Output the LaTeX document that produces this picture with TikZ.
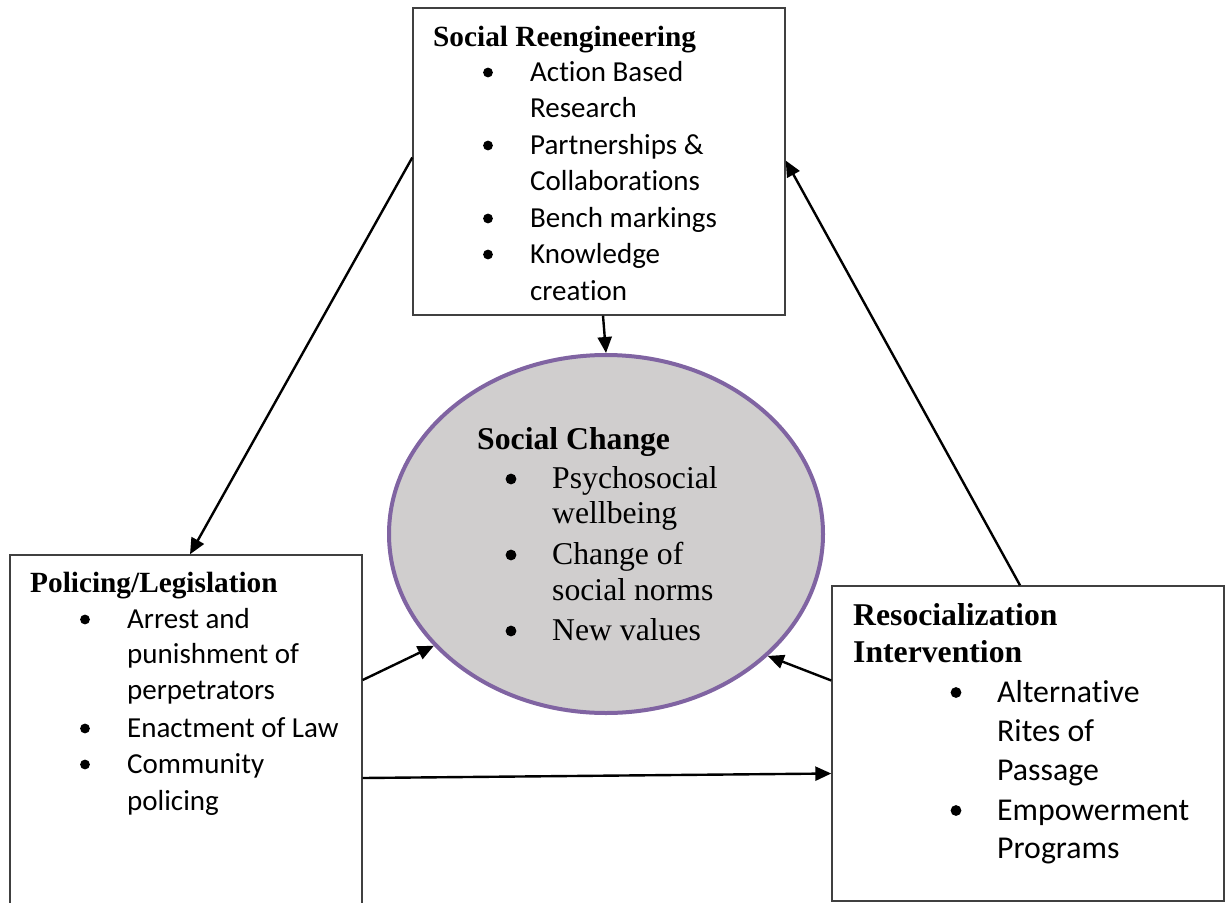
\documentclass[tikz,border=0pt]{standalone}
\usepackage{fontspec}
\setmainfont{Liberation Serif}
\newfontfamily\calibri[Ligatures=CommonOff]{Carlito}
\usetikzlibrary{arrows.meta,shapes.geometric,calc}
\definecolor{boxline}{HTML}{404040}
\definecolor{ringline}{HTML}{8064A2}
\definecolor{ringfill}{HTML}{D0CECE}
\begin{document}
\begin{tikzpicture}[x=1pt,y=-1pt,
  panel/.style={draw=boxline,line width=1.4pt,rectangle,inner sep=0pt,fill=white},
  ring/.style={draw=ringline,line width=4pt,fill=ringfill,ellipse,inner sep=0pt},
  link/.style={draw=black,line width=2.4pt,-{Triangle[length=16pt,width=14pt]}},
  head/.style={anchor=base west,inner sep=0pt,font=\fontsize{29.3}{34}\selectfont\bfseries},
  bighead/.style={anchor=base west,inner sep=0pt,font=\fontsize{31.7}{36}\selectfont\bfseries},
  body/.style={anchor=base west,inner sep=0pt,font=\fontsize{29}{34}\selectfont\calibri},
  bigbody/.style={anchor=base west,inner sep=0pt,font=\fontsize{31.8}{36}\selectfont\calibri},
  serifbody/.style={anchor=base west,inner sep=0pt,font=\fontsize{31.7}{36}\selectfont},
  dot/.style={circle,fill=black,inner sep=0pt,minimum size=9.8pt},
  bigdot/.style={circle,fill=black,inner sep=0pt,minimum size=10.8pt}]
\useasboundingbox (0,0) rectangle (1231,902);

% boxes and central ellipse
\node[panel,minimum width=372pt,minimum height=307pt] (sr) at (599,161.5) {};
\node[panel,minimum width=352pt,minimum height=360pt] (pl) at (186,735) {};
\node[panel,minimum width=392pt,minimum height=315pt] (rs) at (1028,743.5) {};
\node[ring,minimum width=434pt,minimum height=358pt] (sc) at (606,534) {};

% connectors
\draw[link] ($(sr.south)+(4,0)$) -- (sc.north);
\draw[link] ($(sr.west)+(0,-4)$) -- ($(pl.north)+(4,0)$);
\draw[link] ($(rs.north)+(-8,0)$) -- ($(sr.east)+(0,-1)$);
\draw[link] ($(pl.east)+(0,-55)$) -- (sc.213);
\draw[link] ($(rs.west)+(0,-63)$) -- (sc.323);
\draw[link] ($(pl.east)+(0,43)$) -- ($(rs.west)+(0,30)$);

% Social Reengineering
\node[head] (sr-h) at (433,46) {Social Reengineering};
\foreach \n/\y/\t in {1/81/Action Based,2/117/Research,3/154/Partnerships \&,
    4/190/Collaborations,5/227/Bench markings,6/263/Knowledge,7/300/creation}
  \node[body] (sr-\n) at (530,\y) {\t};
\foreach \n/\y in {1/81,2/154,3/227,4/263}
  \node[dot] (sr-b\n) at (488,\y-8.5) {};

% Policing/Legislation
\node[head] (pl-h) at (30,592) {Policing/Legislation};
\foreach \n/\y/\t in {1/628/Arrest and,2/663/punishment of,3/699/perpetrators,
    4/737/Enactment of Law,5/773/Community,6/810/policing}
  \node[body] (pl-\n) at (127,\y) {\t};
\foreach \n/\y in {1/628,2/737,3/773}
  \node[dot] (pl-b\n) at (85,\y-8.5) {};

% Resocialization Intervention
\node[bighead] (rs-h1) at (853,625) {Resocialization};
\node[bighead] (rs-h2) at (853,662) {Intervention};
\foreach \n/\y/\t in {1/702/Alternative,2/741/Rites of,3/780/Passage,
    4/820/Empowerment,5/858/Programs}
  \node[bigbody] (rs-\n) at (997,\y) {\t};
\foreach \n/\y in {1/702,2/820}
  \node[bigdot] (rs-b\n) at (956,\y-9.5) {};

% Social Change
\node[bighead] (sc-h) at (477,449) {Social Change};
\foreach \n/\y/\t in {1/488/Psychosocial,2/523/wellbeing,3/564/Change of,
    4/600/social norms,5/640/New values}
  \node[serifbody] (sc-\n) at (552,\y) {\t};
\foreach \n/\y in {1/488,2/564,3/640}
  \node[bigdot] (sc-b\n) at (511,\y-9) {};
\end{tikzpicture}
\end{document}
